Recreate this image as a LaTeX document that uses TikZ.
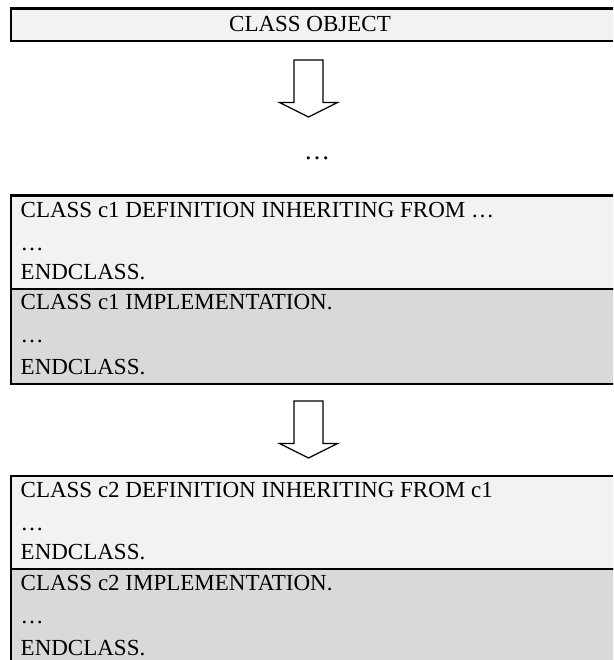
\documentclass[tikz,border=0pt]{standalone}
\usepackage{fontspec}
\setmainfont{Liberation Serif}
\definecolor{deflight}{HTML}{F2F2F2}
\definecolor{impldark}{HTML}{D9D9D9}
\begin{document}
\begin{tikzpicture}[x=1pt,y=-1pt,
  panel/.style={draw=black,line width=2.3pt,anchor=north west,inner sep=0pt,
    minimum width=616pt},
  codeline/.style={anchor=base west,inner sep=0pt,
    font=\fontsize{23}{23}\selectfont},
  blockarrow/.style={draw=black,line width=1.2pt,fill=white,line join=miter}
]
\useasboundingbox (0,0) rectangle (613,660);
\clip (0,0) rectangle (613,660);

% block arrow pointing down, hanging from a named coordinate (top centre of shaft)
\newcommand{\downblock}[1]{%
  \draw[blockarrow] ([xshift=-14.5pt]#1) -- ([xshift=-14.5pt,yshift=-42.5pt]#1)
    -- ([xshift=-29pt,yshift=-42.5pt]#1) -- ([yshift=-57pt]#1)
    -- ([xshift=29pt,yshift=-42.5pt]#1) -- ([xshift=14.5pt,yshift=-42.5pt]#1)
    -- ([xshift=14.5pt]#1) -- cycle;}

% top panel
\node[panel,fill=deflight,minimum height=32.7pt] (obj) at (9.8,7.3) {};
\node[codeline,anchor=base] (objtxt) at (310,31.5) {CLASS OBJECT};

% first arrow and ellipsis
\coordinate (arrA) at (308.5,60);
\downblock{arrA}
\node[codeline,anchor=base,font=\fontsize{26}{26}\selectfont] (gap) at (317,160) {…};

% class c1
\node[panel,fill=deflight,minimum height=93.2pt] (c1def) at (9.8,194.5) {};
\node[panel,fill=impldark,minimum height=95pt] (c1imp) at (9.8,287.7) {};
\node[codeline] (c1a) at (20.5,217) {CLASS c1 DEFINITION INHERITING FROM …};
\node[codeline] (c1b) at (20.5,250) {…};
\node[codeline] (c1c) at (20.5,279) {ENDCLASS.};
\node[codeline] (c1d) at (20.5,309.5) {CLASS c1 IMPLEMENTATION.};
\node[codeline] (c1e) at (20.5,342.5) {…};
\node[codeline] (c1f) at (20.5,374.5) {ENDCLASS.};

% second arrow
\coordinate (arrB) at (308.5,401);
\downblock{arrB}

% class c2
\node[panel,fill=deflight,minimum height=93pt] (c2def) at (9.8,475) {};
\node[panel,fill=impldark,minimum height=95pt] (c2imp) at (9.8,568) {};
\node[codeline] (c2a) at (20.5,497.5) {CLASS c2 DEFINITION INHERITING FROM c1};
\node[codeline] (c2b) at (20.5,530.5) {…};
\node[codeline] (c2c) at (20.5,559.5) {ENDCLASS.};
\node[codeline] (c2d) at (20.5,590) {CLASS c2 IMPLEMENTATION.};
\node[codeline] (c2e) at (20.5,623) {…};
\node[codeline] (c2f) at (20.5,655) {ENDCLASS.};
\end{tikzpicture}
\end{document}
